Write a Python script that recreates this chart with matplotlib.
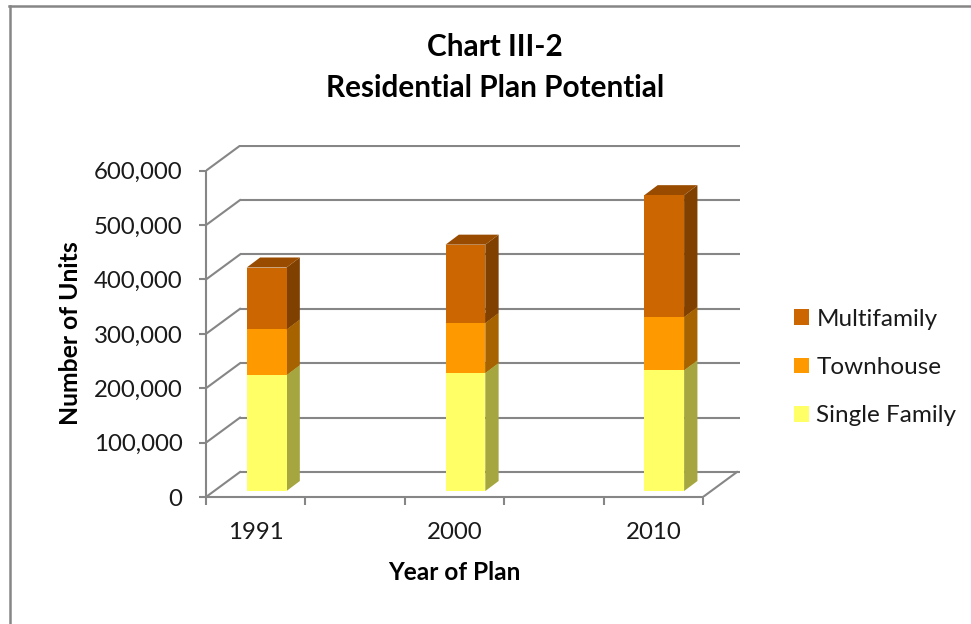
import matplotlib
matplotlib.use("Agg")
import matplotlib.pyplot as plt
from matplotlib.lines import Line2D
from matplotlib.patches import Patch, Polygon

years = ['1991', '2000', '2010']
single_family = [213000, 217000, 222000]
townhouse = [84000, 92000, 98000]
multifamily = [114000, 144000, 224000]
series_names = ['Single Family', 'Townhouse', 'Multifamily']
y_ticks = [0, 100000, 200000, 300000, 400000, 500000, 600000]

front_colors = ['#FFFF66', '#FF9900', '#CC6600']
side_colors = ['#A6A640', '#A66300', '#804000']
top_colors = ['#B3B347', '#B36B00', '#994C00']
grid_color = '#868686'

W, H = 971, 624
# oblique depth of the chart box, in axis units
depth_x = 0.342
depth_y = 46000
bar_width = 0.4
# how far into the box the bars stand
bar_dx = 0.11
bar_dy = 11000
bar_depth_x = 0.134
bar_depth_y = 18400

plt.rcParams['font.family'] = ['Lato', 'DejaVu Sans']
text_color = '#1a1a1a'

fig = plt.figure(figsize=(W / 100, H / 100), dpi=100)
ax = fig.add_axes([206 / W, (H - 497) / H, (740 - 206) / W, (497 - 145) / H])
ax.set_xlim(0, 5 * (740 - 206) / (703 - 206))
ax.set_ylim(0, 600000 * (497 - 145) / (497 - 170.7))
ax.patch.set_visible(False)


def draw_grid():
    for v in y_ticks:
        ax.plot([depth_x, ax.get_xlim()[1]], [v + depth_y, v + depth_y],
                color=grid_color, lw=1.5, zorder=1, solid_capstyle='butt')
        ax.plot([0, depth_x], [v, v + depth_y], color=grid_color, lw=1.5, zorder=1)
    ax.plot([5, 5 + depth_x], [0, depth_y], color=grid_color, lw=1.5, zorder=1)


def draw_bar(x, bottom, height, i, z):
    y0 = bottom + bar_dy
    y1 = y0 + height
    x1 = x + bar_width
    side = [(x1, y0), (x1 + bar_depth_x, y0 + bar_depth_y),
            (x1 + bar_depth_x, y1 + bar_depth_y), (x1, y1)]
    top = [(x, y1), (x + bar_depth_x, y1 + bar_depth_y),
           (x1 + bar_depth_x, y1 + bar_depth_y), (x1, y1)]
    front = [(x, y0), (x1, y0), (x1, y1), (x, y1)]
    ax.add_patch(Polygon(side, fc=side_colors[i], ec='none', zorder=z))
    ax.add_patch(Polygon(top, fc=top_colors[i], ec='none', zorder=z))
    ax.add_patch(Polygon(front, fc=front_colors[i], ec='none', zorder=z + 0.5))


draw_grid()

stacks = [single_family, townhouse, multifamily]
for n in range(len(years)):
    x = 2 * n + 0.5 - bar_width / 2 + bar_dx
    bottom = 0
    for i, vals in enumerate(stacks):
        draw_bar(x, bottom, vals[n], i, 3 + i)
        bottom += vals[n]

for s in ['top', 'right']:
    ax.spines[s].set_visible(False)
ax.spines['left'].set_bounds(0, 600000)
ax.spines['bottom'].set_bounds(0, 5)
for s in ['left', 'bottom']:
    ax.spines[s].set_color(grid_color)
    ax.spines[s].set_linewidth(1.5)

ax.set_yticks(y_ticks)
ax.set_yticklabels([f'{v:,}' for v in y_ticks])
ax.set_xticks(range(6))
ax.set_xticklabels([])
ax.set_xticks([2 * n + 0.5 for n in range(len(years))], minor=True)
ax.set_xticklabels(years, minor=True)
ax.tick_params(axis='y', length=5, width=1.5, color=grid_color, labelsize=17.3,
               labelcolor=text_color, pad=12)
ax.tick_params(axis='x', which='major', length=6, width=1.5, color=grid_color)
ax.tick_params(axis='x', which='minor', length=0, labelsize=17.3,
               labelcolor=text_color, pad=18)

fig.text(495 / W, 1 - 67.5 / H, 'Chart III-2\nResidential Plan Potential', ha='center',
         va='center', fontsize=21.4, fontweight='bold', color='black', linespacing=1.53)
fig.text(70 / W, 1 - 333 / H, 'Number of Units', rotation=90, ha='center', va='center',
         fontsize=17.8, fontweight='bold', color='black')
fig.text(454 / W, 1 - 572 / H, 'Year of Plan', ha='center', va='center',
         fontsize=17.6, fontweight='bold', color='black')

handles = [Patch(fc=front_colors[i], ec='none', label=series_names[i]) for i in [2, 1, 0]]
fig.legend(handles=handles, loc='center left', bbox_to_anchor=(794 / W, 1 - 367.5 / H),
           frameon=False, fontsize=17.5, handlelength=0.62, handleheight=0.62,
           labelspacing=1.12, handletextpad=0.3, labelcolor=text_color,
           borderaxespad=0, borderpad=0)

# chart frame, cut by the screenshot on the right and at the bottom
fig.add_artist(Line2D([9.5 / W, 9.5 / W], [0, 1 - 6 / H], color=grid_color, lw=1.8))
fig.add_artist(Line2D([8.5 / W, 1], [1 - 6 / H, 1 - 6 / H], color=grid_color, lw=1.8))

fig.savefig('out.png', dpi=100)
